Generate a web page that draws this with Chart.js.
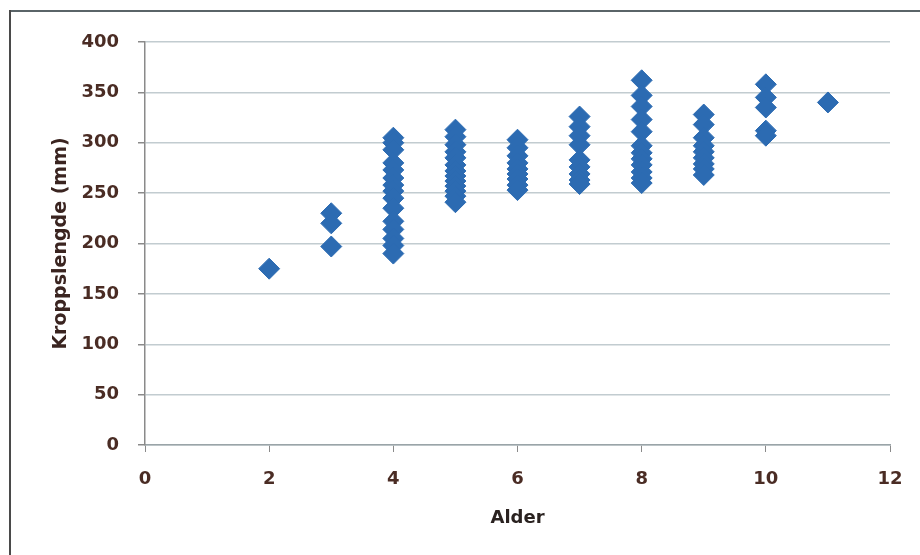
<!DOCTYPE html>
<html>
<head>
<meta charset="utf-8">
<script src="https://cdn.jsdelivr.net/npm/chart.js@4"></script>
<style>
  html, body { margin: 0; padding: 0; background: #ffffff; }
  #wrap { position: relative; width: 920px; height: 555px; background: #fff; }
  #frameTop { position: absolute; left: 9px; top: 10px; width: 911px; height: 2px; background: #5a6468; }
  #frameLeft { position: absolute; left: 9px; top: 10px; width: 2px; height: 545px; background: #4a4a4a; }
  canvas { position: absolute; left: 0; top: 0; }
</style>
</head>
<body>
<div id="wrap">
  <canvas id="c" width="920" height="555"></canvas>
  <div id="frameTop"></div>
  <div id="frameLeft"></div>
</div>
<script>
// Data: body length (mm) by age
const age2  = [175];
const age3  = [230, 220, 197];
const age4  = [305, 300, 293, 280, 273, 265, 258, 252, 245, 235, 222, 214, 205, 198, 190];
const age5  = [313, 306, 298, 291, 285, 278, 272, 267, 262, 257, 252, 247, 241];
const age6  = [303, 295, 287, 280, 274, 269, 264, 258, 253];
const age7  = [326, 316, 307, 298, 283, 276, 269, 263, 259];
const age8  = [362, 347, 336, 323, 311, 297, 290, 284, 278, 271, 265, 260];
const age9  = [328, 318, 305, 297, 291, 285, 279, 274, 268];
const age10 = [358, 345, 335, 312, 307];
const age11 = [340];

const ageGroups = [2, 3, 4, 5, 6, 7, 8, 9, 10, 11];
const lengthGroups = [age2, age3, age4, age5, age6, age7, age8, age9, age10, age11];

const xTitle = 'Alder';
const yTitle = 'Kroppslengde (mm)';

const points = [];
ageGroups.forEach((a, i) => lengthGroups[i].forEach(v => points.push({ x: a, y: v })));

const tickColor = '#4a2c24';
const tickFont = { family: 'DejaVu Sans', size: 18, weight: 'bold' };

new Chart(document.getElementById('c'), {
  type: 'scatter',
  data: {
    datasets: [{
      data: points,
      pointStyle: 'rectRot',
      pointRadius: 10.5,
      pointHoverRadius: 10.5,
      backgroundColor: '#2c6bb2',
      borderColor: '#2c6bb2',
      borderWidth: 1
    }]
  },
  options: {
    responsive: false,
    animation: false,
    events: [],
    layout: { padding: { top: 42, right: 30, left: 0, bottom: 0 } },
    plugins: { legend: { display: false }, tooltip: { enabled: false } },
    scales: {
      x: {
        type: 'linear',
        min: 0, max: 12,
        afterFit: s => { s.height = 110; },
        ticks: { stepSize: 2, color: tickColor, font: tickFont, padding: 17, maxRotation: 0 },
        grid: { drawOnChartArea: false, drawTicks: true, tickLength: 7, tickColor: '#8a8a8a' },
        border: { display: true, color: '#9aa4a8', width: 1.5 },
        title: { display: true, text: xTitle, color: '#2a2220', font: { family: 'DejaVu Sans', size: 18, weight: 'bold' }, padding: { top: 0, bottom: 26 } }
      },
      y: {
        min: 0, max: 400,
        afterFit: s => { s.width = 145; },
        ticks: { stepSize: 50, color: tickColor, font: tickFont, padding: 19 },
        grid: { color: '#c2ccd0', lineWidth: 1.5, drawTicks: true, tickLength: 7, tickColor: '#8a8a8a' },
        border: { display: true, color: '#8a8a8a', width: 1.5 },
        title: { display: true, text: yTitle, color: '#3a2420', font: { family: 'DejaVu Sans', size: 19, weight: 'bold' }, padding: { top: 50, bottom: 0 } }
      }
    }
  }
});
</script>
</body>
</html>
